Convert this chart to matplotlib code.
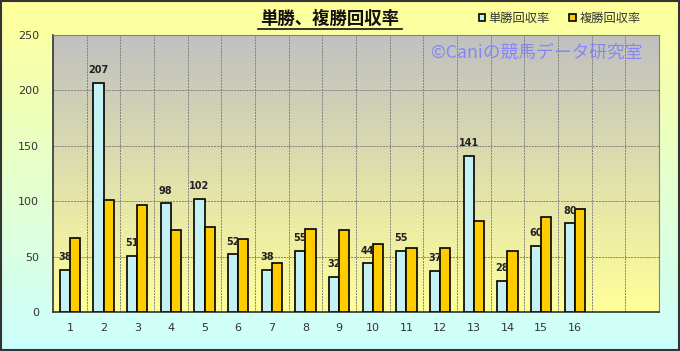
import numpy as np
import matplotlib.pyplot as plt
from matplotlib.colors import LinearSegmentedColormap
from matplotlib.patches import Rectangle

plt.rcParams['font.family'] = ['Noto Sans CJK JP', 'DejaVu Sans']

# ================================
# Data
# ================================
categories = list(range(1, 19))
tick_labels = [str(i) for i in range(1, 17)] + ['', '']
win_rate = [38, 207, 51, 98, 102, 52, 38, 55, 32, 44, 55, 37, 141, 28, 60, 80]
place_rate = [67, 101, 97, 74, 77, 66, 44, 75, 74, 61, 58, 58, 82, 55, 86, 93]

# ================================
# Figure + gradient backgrounds
# ================================
fig = plt.figure(figsize=(6.8, 3.51), dpi=100)

bg = fig.add_axes([0, 0, 1, 1], zorder=-10)
bg_cmap = LinearSegmentedColormap.from_list('bg', ['#CCFFFF', '#FFFF99'])
bg.imshow(np.linspace(0, 1, 256).reshape(-1, 1), cmap=bg_cmap, origin='lower',
          aspect='auto', extent=[0, 1, 0, 1])
bg.set_xlim(0, 1)
bg.set_ylim(0, 1)
bg.axis('off')
bg.add_patch(Rectangle((0.002, 0.003), 0.996, 0.994, fill=False,
                       edgecolor='#333333', linewidth=1.5, transform=bg.transAxes))

ax = fig.add_axes([0.078, 0.111, 0.891, 0.789])
ax.set_xlim(0.5, 18.5)
ax.set_ylim(0, 250)
area_cmap = LinearSegmentedColormap.from_list('area', ['#FFFF99', '#C0C0C0'])
ax.imshow(np.linspace(0, 1, 256).reshape(-1, 1), cmap=area_cmap, origin='lower',
          aspect='auto', extent=[0.5, 18.5, 0, 250], zorder=0)

# ================================
# Grid
# ================================
for x in np.arange(1.5, 18.5, 1):
    ax.axvline(x, color='#808080', linestyle=(0, (2, 1)), linewidth=0.7, zorder=1)
for y in [50, 100, 150, 200]:
    ax.axhline(y, color='#808080', linestyle=(0, (2, 1)), linewidth=0.7, zorder=1)

# ================================
# Bars
# ================================
x = np.arange(1, 17)
w = 0.3
ax.bar(x - w / 2, win_rate, width=w, color='#C4F2F4', edgecolor='black',
       linewidth=1.2, zorder=3, label='単勝回収率')
ax.bar(x + w / 2, place_rate, width=w, color='#FFCC00', edgecolor='black',
       linewidth=1.2, zorder=3, label='複勝回収率')

for xi, v in zip(x, win_rate):
    ax.text(xi - w / 2, v + 7, str(v), ha='center', va='bottom', fontsize=7,
            fontweight='bold', color='#222222', family='DejaVu Sans', zorder=4)

# ================================
# Axes styling
# ================================
for s in ['top', 'right']:
    ax.spines[s].set_color('#808080')
for s in ['left', 'bottom']:
    ax.spines[s].set_color('#333333')
    ax.spines[s].set_linewidth(1.2)

ax.set_xticks(categories)
ax.set_xticklabels(tick_labels, fontsize=8, color='#333333', family='DejaVu Sans')
ax.set_yticks([0, 50, 100, 150, 200, 250])
ax.tick_params(axis='y', labelsize=8, colors='#333333', length=0, pad=10)
ax.tick_params(axis='x', length=0, pad=8)
for t in ax.get_yticklabels():
    t.set_family('DejaVu Sans')

# ================================
# Title, legend, watermark
# ================================
fig.text(0.485, 0.947, '単勝、複勝回収率', ha='center', va='center',
         fontsize=12.5, fontweight='bold', color='#111111')
fig.add_artist(plt.Line2D([0.379, 0.591], [0.917, 0.917], color='#111111',
                          linewidth=1.2))

leg = fig.legend(loc='center', bbox_to_anchor=(0.823, 0.947), ncol=2,
                 frameon=False, fontsize=8.8, handlelength=0.5, handleheight=0.5,
                 handletextpad=0.3, columnspacing=1.6)
for t in leg.get_texts():
    t.set_color('#333333')

fig.text(0.789, 0.849, '©Caniの競馬データ研究室', ha='center', va='center',
         fontsize=12.8, color='#8080FF', alpha=0.9)

plt.savefig('out.png', dpi=100)
